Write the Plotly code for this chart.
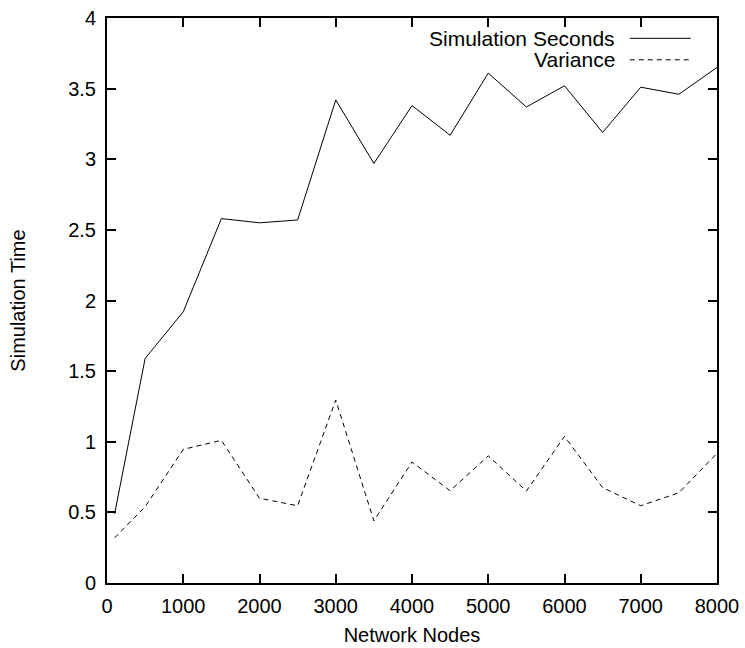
import plotly.graph_objects as go

nodes = [100, 500, 1000, 1500, 2000, 2500, 3000, 3500, 4000, 4500, 5000, 5500, 6000, 6500, 7000, 7500, 8000]
sim_seconds = [0.49, 1.59, 1.92, 2.58, 2.55, 2.57, 3.42, 2.97, 3.38, 3.17, 3.61, 3.37, 3.52, 3.19, 3.51, 3.46, 3.65]
variance = [0.32, 0.54, 0.946, 1.01, 0.60, 0.547, 1.296, 0.44, 0.857, 0.653, 0.90, 0.651, 1.038, 0.675, 0.547, 0.639, 0.918]

x_ticks = [0, 1000, 2000, 3000, 4000, 5000, 6000, 7000, 8000]
y_ticks = [0, 0.5, 1, 1.5, 2, 2.5, 3, 3.5, 4]
y_tick_text = ["0", "0.5", "1", "1.5", "2", "2.5", "3", "3.5", "4"]
series_names = ["Simulation Seconds", "Variance"]

FONT = "Liberation Sans, Arial, Helvetica, sans-serif"

fig = go.Figure()
fig.add_trace(go.Scatter(x=nodes, y=sim_seconds, mode="lines", name=series_names[0],
                         line=dict(color="black", width=1), showlegend=False))
fig.add_trace(go.Scatter(x=nodes, y=variance, mode="lines", name=series_names[1],
                         line=dict(color="black", width=1, dash="5px,4px"), showlegend=False))

axis_common = dict(showline=True, linecolor="black", linewidth=2, mirror="ticks",
                   ticks="inside", ticklen=9, tickwidth=2, tickcolor="black",
                   showgrid=False, zeroline=False, automargin=False,
                   tickfont=dict(family=FONT, size=20, color="black"))

fig.update_xaxes(range=[0, 8000], tickvals=x_ticks, ticktext=[str(v) for v in x_ticks],
                 ticklabelstandoff=4,
                 title=dict(text="Network Nodes", font=dict(family=FONT, size=20, color="black"), standoff=12),
                 **axis_common)
fig.update_yaxes(range=[0, 4], tickvals=y_ticks, ticktext=y_tick_text,
                 ticklabelstandoff=5,
                 title=dict(text="Simulation Time", font=dict(family=FONT, size=20, color="black"), standoff=37),
                 **axis_common)

# Legend (gnuplot style: text right-aligned, sample to the right)
legend_rows = [(series_names[0], "solid", 0.964), (series_names[1], "5px,4px", 0.926)]
for name, dash, yp in legend_rows:
    fig.add_annotation(x=0.836, y=yp, xref="paper", yref="paper", text=name, showarrow=False,
                       xanchor="right", yanchor="middle", font=dict(family=FONT, size=21, color="black"))
    fig.add_shape(type="line", xref="paper", yref="paper", x0=0.857, x1=0.957, y0=yp, y1=yp,
                  line=dict(color="black", width=1, dash=dash))

fig.update_layout(width=745, height=648, margin=dict(l=107, r=28, t=18, b=65),
                  plot_bgcolor="white", paper_bgcolor="white",
                  font=dict(family=FONT, size=20, color="black"))

fig.write_html("out.html")
